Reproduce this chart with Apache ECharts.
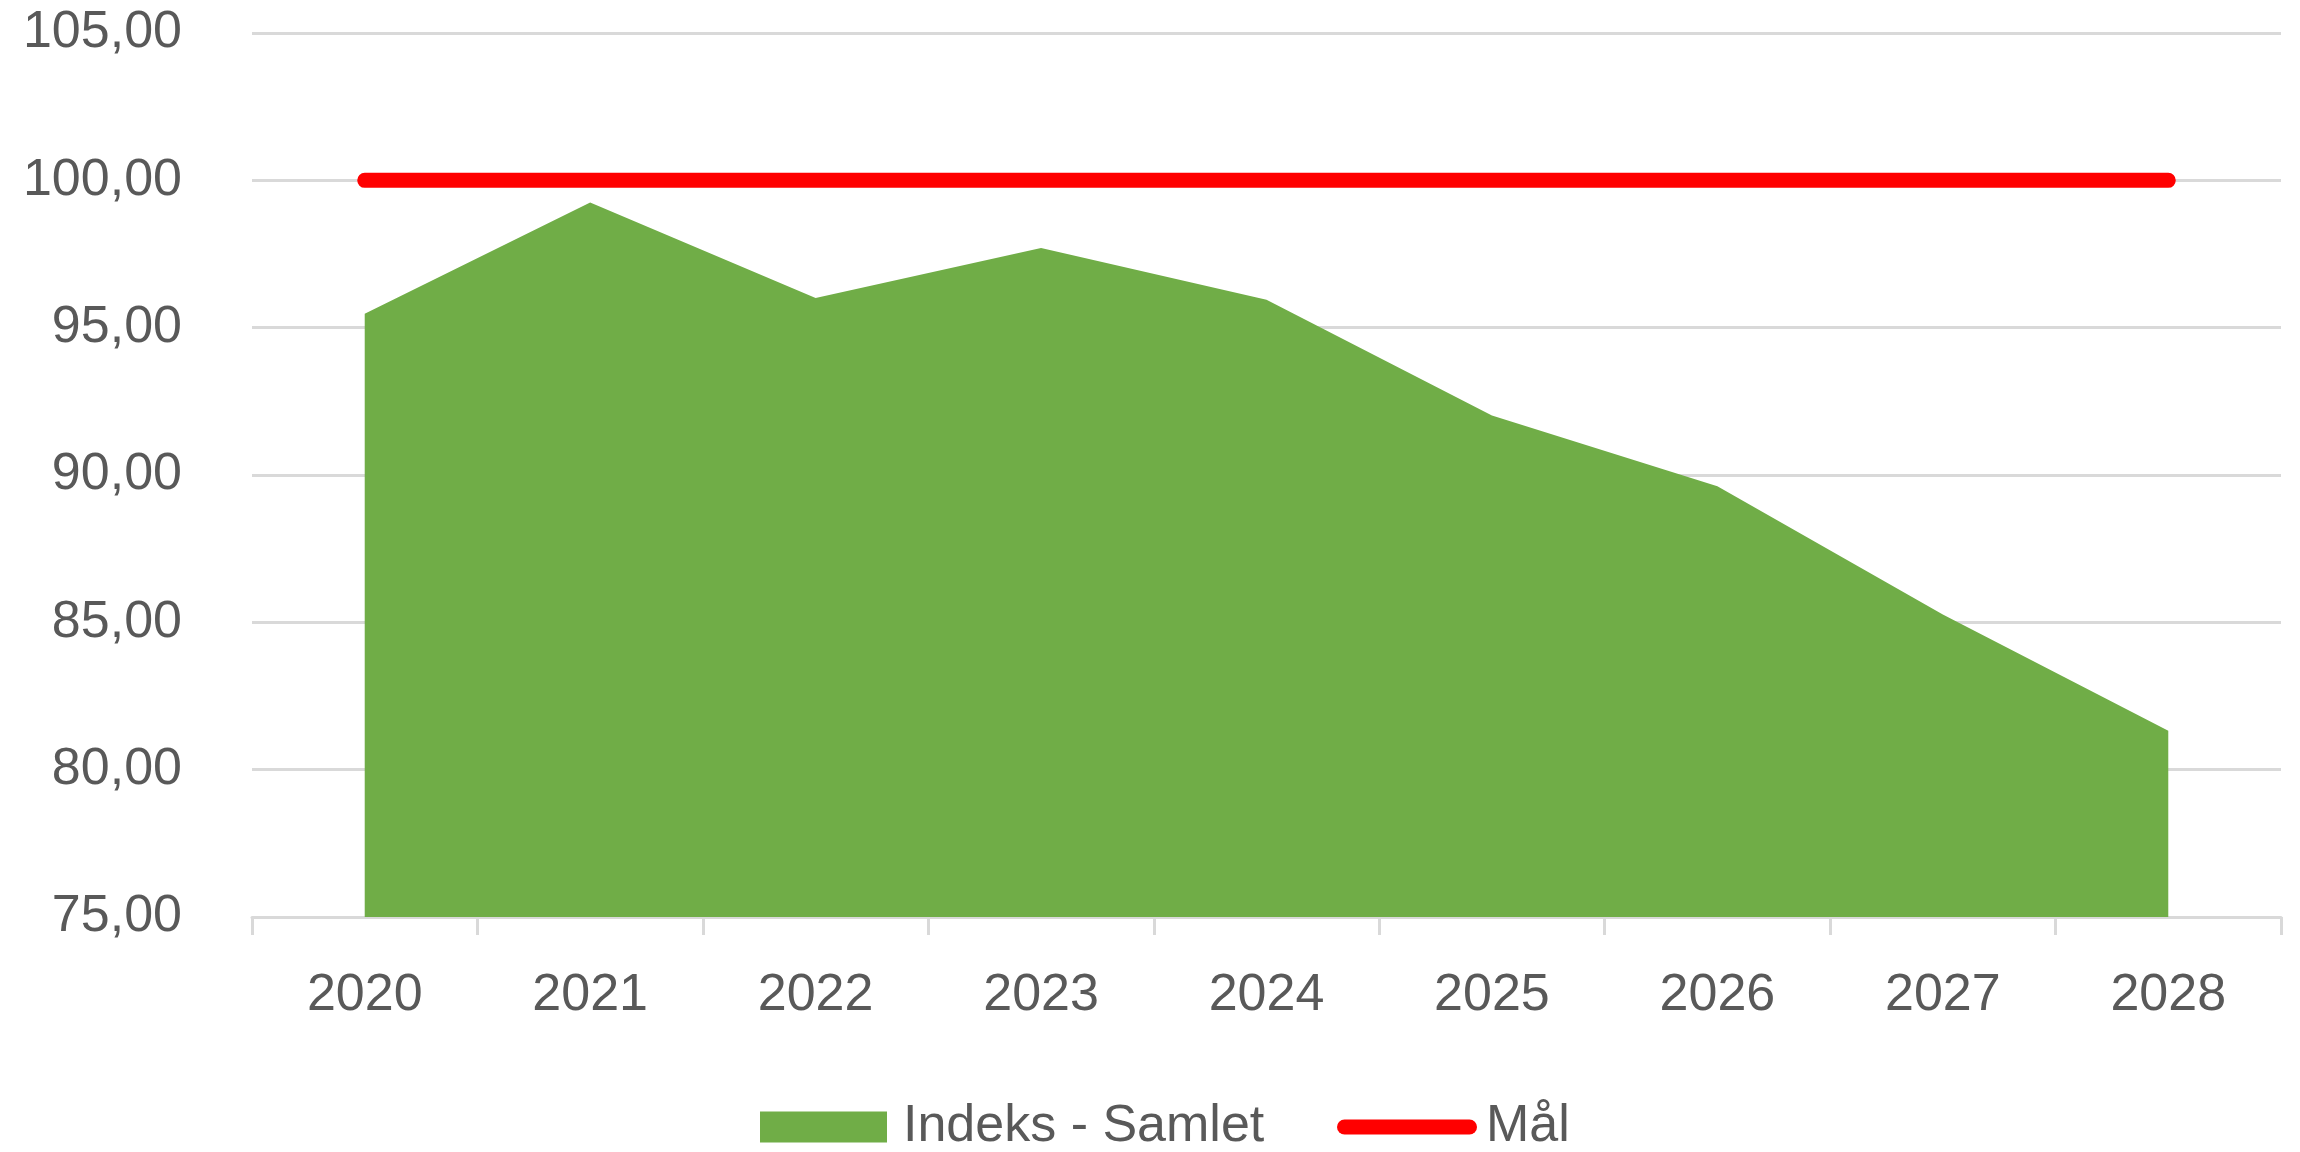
<!DOCTYPE html>
<html>
<head>
<meta charset="utf-8">
<script src="https://cdn.jsdelivr.net/npm/echarts@6/dist/echarts.min.js"></script>
<style>html,body{margin:0;padding:0;background:#fff}#c{width:2300px;height:1152px}</style>
</head>
<body>
<div id="c"></div>
<script>
const years = ['2020','2021','2022','2023','2024','2025','2026','2027','2028'];
const indeksSamlet = [95.47, 99.25, 96.01, 97.70, 95.95, 92.02, 89.62, 85.27, 81.32];
const maal = [100, 100, 100, 100, 100, 100, 100, 100, 100];
const yTicks = { min: 75, max: 105, interval: 5 };

const FONT = 'Liberation Sans';
const TXT = '#595959';
const GRID = '#d9d9d9';
const GREEN = '#70ad47';
const RED = '#ff0000';

const chart = echarts.init(document.getElementById('c'), null, { renderer: 'canvas' });
chart.setOption({
  animation: false,
  backgroundColor: '#ffffff',
  textStyle: { fontFamily: FONT, color: TXT },
  grid: { left: 252, right: 19, top: 33, bottom: 235, containLabel: false },
  legend: [
    {
      left: 760, top: 1096, padding: 0,
      itemWidth: 127, itemHeight: 31,
      textStyle: { fontFamily: FONT, fontSize: 52, lineHeight: 62, color: TXT, padding: [0, 0, 0, 11] },
      data: [{ name: 'Indeks - Samlet', icon: 'rect' }]
    },
    {
      left: 1337, top: 1096, padding: 0,
      itemWidth: 140, itemHeight: 15,
      textStyle: { fontFamily: FONT, fontSize: 52, lineHeight: 62, color: TXT, padding: [0, 0, 0, 4] },
      data: [{
        name: 'Mål',
        icon: 'path://M7.5,0 H132.5 A7.5,7.5 0 0 1 132.5,15 H7.5 A7.5,7.5 0 0 1 7.5,0 Z',
        itemStyle: { color: RED, borderWidth: 0 }
      }]
    }
  ],
  xAxis: {
    type: 'category',
    data: years,
    boundaryGap: true,
    axisLine: { lineStyle: { color: GRID, width: 3 } },
    axisTick: { show: true, length: 18, lineStyle: { color: GRID, width: 3 } },
    axisLabel: { fontFamily: FONT, fontSize: 52, color: TXT, margin: 53, lineHeight: 52 },
    splitLine: { show: false }
  },
  yAxis: {
    type: 'value',
    min: yTicks.min, max: yTicks.max, interval: yTicks.interval,
    axisLine: { show: false },
    axisTick: { show: false },
    axisLabel: {
      fontFamily: FONT, fontSize: 52, color: TXT, margin: 70,
      formatter: v => v.toFixed(2).replace('.', ',')
    },
    splitLine: { lineStyle: { color: GRID, width: 3 } }
  },
  series: [
    {
      name: 'Indeks - Samlet',
      type: 'line',
      data: indeksSamlet,
      symbol: 'none',
      lineStyle: { width: 0, color: GREEN },
      itemStyle: { color: GREEN },
      areaStyle: { color: GREEN, opacity: 1, origin: 'start' },
      z: 2
    },
    {
      name: 'Mål',
      type: 'line',
      data: maal,
      symbol: 'none',
      itemStyle: { color: RED },
      lineStyle: { color: RED, width: 15, cap: 'round' },
      z: 3
    }
  ]
});
</script>
</body>
</html>
